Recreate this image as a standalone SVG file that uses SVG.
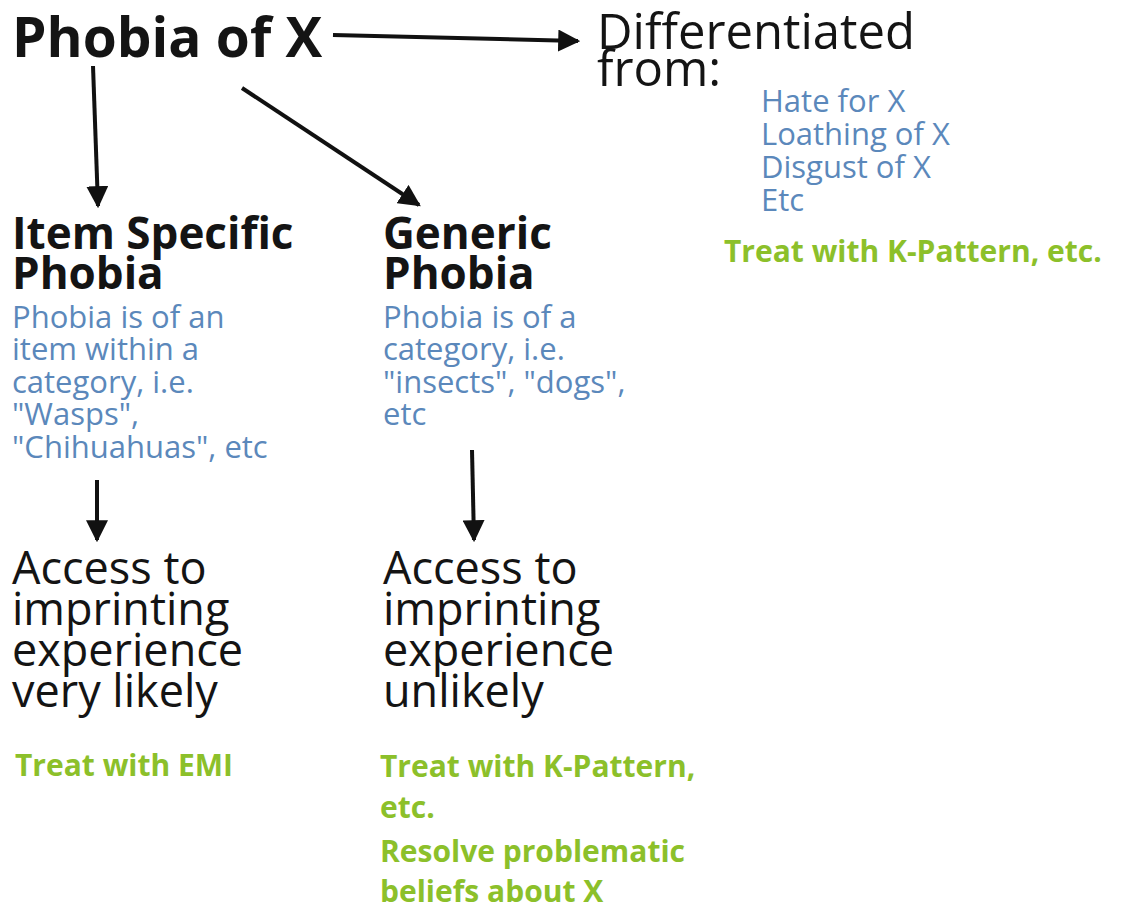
<svg xmlns="http://www.w3.org/2000/svg" width="1122" height="914" viewBox="0 0 1122 914">
<defs>
<marker id="ah" markerUnits="userSpaceOnUse" markerWidth="22" markerHeight="22" viewBox="0 0 20 20" refX="18" refY="10" orient="auto">
<path d="M0,0 L20,10 L0,20 Z" fill="#111"/>
</marker>
<style>
.t{font-family:"Open Sans","Liberation Sans",sans-serif;fill:#141414}
.b{font-weight:700}
.blue{font-family:"Open Sans","Liberation Sans",sans-serif;fill:#5b88bb;font-size:31px}
.green{font-family:"Open Sans","Liberation Sans",sans-serif;fill:#8cc02a;font-weight:700;font-size:30px}
.c{stroke:#111;stroke-width:4;fill:none;marker-end:url(#ah)}
</style>
</defs>
<rect width="1122" height="914" fill="#fff"/>
<g id="connectors">
<line class="c" x1="333" y1="35" x2="578" y2="41"/>
<line class="c" x1="93" y1="66" x2="98" y2="206"/>
<line class="c" x1="242" y1="88" x2="419" y2="205"/>
<line class="c" x1="97" y1="480" x2="97" y2="540"/>
<line class="c" x1="472" y1="450" x2="474" y2="540"/>
</g>
<g id="root">
<text class="t b" x="12" y="57" font-size="55">Phobia of X</text>
</g>
<g id="differentiated">
<text class="t" x="597" y="49" font-size="49">Differentiated</text>
<text class="t" x="597" y="86" font-size="49">from:</text>
<text class="blue" x="761" y="112">Hate for X</text>
<text class="blue" x="761" y="145">Loathing of X</text>
<text class="blue" x="761" y="178">Disgust of X</text>
<text class="blue" x="761" y="211">Etc</text>
<text class="green" x="724" y="262">Treat with K-Pattern, etc.</text>
</g>
<g id="item-specific">
<text class="t b" x="12" y="249" font-size="44">Item Specific</text>
<text class="t b" x="12" y="289" font-size="44">Phobia</text>
<text class="blue" x="12" y="328">Phobia is of an</text>
<text class="blue" x="12" y="360">item within a</text>
<text class="blue" x="12" y="393">category, i.e.</text>
<text class="blue" x="12" y="425">"Wasps",</text>
<text class="blue" x="12" y="458">"Chihuahuas", etc</text>
</g>
<g id="generic">
<text class="t b" x="383" y="249" font-size="44">Generic</text>
<text class="t b" x="383" y="289" font-size="44">Phobia</text>
<text class="blue" x="383" y="328">Phobia is of a</text>
<text class="blue" x="383" y="360">category, i.e.</text>
<text class="blue" x="383" y="393">"insects", "dogs",</text>
<text class="blue" x="383" y="425">etc</text>
</g>
<g id="access-likely">
<text class="t" x="12" y="584" font-size="45">Access to</text>
<text class="t" x="12" y="625" font-size="45">imprinting</text>
<text class="t" x="12" y="666" font-size="45">experience</text>
<text class="t" x="12" y="707" font-size="45">very likely</text>
<text class="green" x="15" y="776">Treat with EMI</text>
</g>
<g id="access-unlikely">
<text class="t" x="383" y="584" font-size="45">Access to</text>
<text class="t" x="383" y="625" font-size="45">imprinting</text>
<text class="t" x="383" y="666" font-size="45">experience</text>
<text class="t" x="383" y="707" font-size="45">unlikely</text>
<text class="green" x="380" y="777">Treat with K-Pattern,</text>
<text class="green" x="380" y="818">etc.</text>
<text class="green" x="380" y="862">Resolve problematic</text>
<text class="green" x="380" y="902">beliefs about X</text>
</g>
</svg>
